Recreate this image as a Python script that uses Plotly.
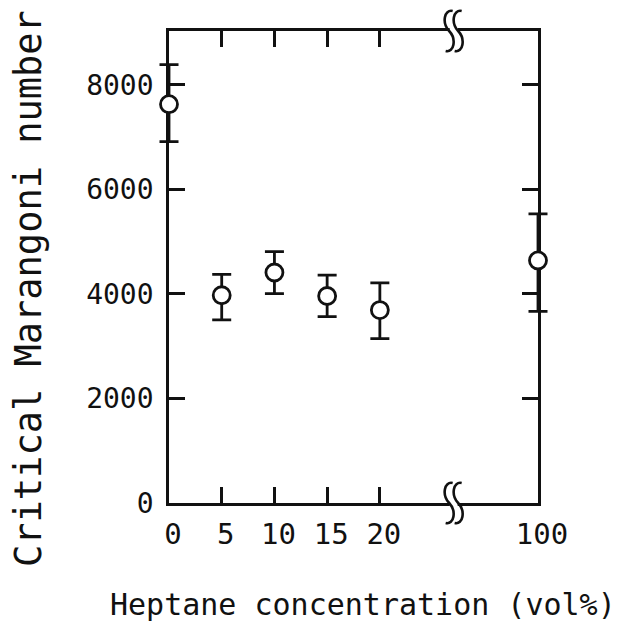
import plotly.graph_objects as go

# ---- data ----
concentration = [0, 5, 10, 15, 20, 100]          # heptane vol%
marangoni = [7630, 3975, 4410, 3960, 3690, 4640]  # critical Marangoni number
err_plus = [755, 400, 400, 400, 520, 890]
err_minus = [715, 470, 405, 395, 545, 975]

x_tick_values = [0, 5, 10, 15, 20, 100]
y_tick_values = [0, 2000, 4000, 6000, 8000]

# broken axis: values above the break are drawn at a compressed position
BREAK_AT = 27
POS_100 = 35
X_MAX = POS_100
Y_MAX = 9030


def axis_pos(c):
    return c if c <= 20 else POS_100


xpos = [axis_pos(c) for c in concentration]
tickpos = [axis_pos(c) for c in x_tick_values]

INK = "#111111"
FONT = "DejaVu Sans Mono"
CLEAR = "rgba(0,0,0,0)"

# ---- layout geometry (figure pixels; page has an 8px body margin) ----
W, H = 611, 613
PLOT_L, PLOT_R, PLOT_T, PLOT_B = 161, 530, 23, 495   # main frame
PAD_L, PAD_R, PAD_T, PAD_B = 26, 26, 22, 26          # unclipped room for data
ML, MR, MT, MB = PLOT_L - PAD_L, W - PLOT_R - PAD_R, PLOT_T - PAD_T, H - PLOT_B - PAD_B
AW, AH = W - ML - MR, H - MT - MB
x_dom = [PAD_L / AW, (PAD_L + PLOT_R - PLOT_L) / AW]
y_dom = [PAD_B / AH, (PAD_B + PLOT_B - PLOT_T) / AH]
ux = X_MAX / (PLOT_R - PLOT_L)   # data units per pixel
uy = Y_MAX / (PLOT_B - PLOT_T)
x2_range = [-PAD_L * ux, X_MAX + PAD_R * ux]
y2_range = [-PAD_B * uy, Y_MAX + PAD_T * uy]


def paper_x(px):
    return (px - ML) / AW


def paper_y(py):
    return 1 - (py - MT) / AH


fig = go.Figure()
# invisible trace to hold the framed axes
fig.add_trace(go.Scatter(x=[None], y=[None], xaxis="x", yaxis="y",
                         showlegend=False, hoverinfo="skip"))
fig.add_trace(go.Scatter(
    x=xpos, y=marangoni, mode="markers", xaxis="x2", yaxis="y2",
    marker=dict(symbol="circle", size=17, color="white",
                line=dict(color=INK, width=2.8)),
    error_y=dict(type="data", symmetric=False, array=err_plus,
                 arrayminus=err_minus, color=INK, thickness=2.8, width=9.5),
    cliponaxis=False, showlegend=False,
))


# axis-break marks (two S curves), coordinates in pixels around the anchor
def s_path(cx):
    pts = [(cx + 3.5, -20), (cx - 5, -22), (cx - 7.5, -8), (cx, 0),
           (cx + 7.5, 8), (cx + 5, 22), (cx - 3.5, 20)]
    p = [(x, -y) for x, y in pts]   # pixel y grows upward
    return ("M {:.1f},{:.1f} C {:.1f},{:.1f} {:.1f},{:.1f} {:.1f},{:.1f} "
            "C {:.1f},{:.1f} {:.1f},{:.1f} {:.1f},{:.1f}").format(
        *[v for pt in p for v in pt])


for ya in (0, Y_MAX):
    fig.add_shape(type="path", xref="x2", yref="y2", xsizemode="pixel",
                  ysizemode="pixel", xanchor=BREAK_AT, yanchor=ya,
                  path="M -4,-3 L 4,-3 L 4,3 L -4,3 Z", fillcolor="white",
                  line=dict(width=0), layer="above")
    for cx in (-4.5, 4.5):
        fig.add_shape(type="path", xref="x2", yref="y2", xsizemode="pixel",
                      ysizemode="pixel", xanchor=BREAK_AT, yanchor=ya,
                      path=s_path(cx),
                      line=dict(color=INK, width=2.6), layer="above")

axis_common = dict(showline=True, linecolor=INK, linewidth=2.6, mirror="ticks",
                   ticks="inside", ticklen=16, tickwidth=2.6, tickcolor=INK,
                   showgrid=False, zeroline=False)

fig.update_layout(
    xaxis=dict(domain=x_dom, anchor="y", range=[0, X_MAX], tickmode="array",
               tickvals=tickpos, ticktext=[str(v) for v in x_tick_values],
               tickfont=dict(family=FONT, size=29, color=INK),
               ticklabelshift=4, ticklabelstandoff=3, **axis_common),
    yaxis=dict(domain=y_dom, anchor="x", range=[0, Y_MAX], tickmode="array",
               tickvals=y_tick_values, ticktext=[str(v) for v in y_tick_values],
               tickfont=dict(family=FONT, size=28, color=INK),
               ticklabelstandoff=7, **axis_common),
    xaxis2=dict(domain=[0, 1], anchor="y2", range=x2_range, visible=False),
    yaxis2=dict(domain=[0, 1], anchor="x2", range=y2_range, visible=False),
)

fig.add_annotation(text="Critical Marangoni number", textangle=-90,
                   xref="paper", yref="paper", x=paper_x(20), y=paper_y(281),
                   xanchor="center", yanchor="middle", showarrow=False,
                   font=dict(family=FONT, size=37, color=INK))
fig.add_annotation(text="Heptane concentration (vol%)",
                   xref="paper", yref="paper", x=paper_x(355), y=paper_y(596),
                   xanchor="center", yanchor="middle", showarrow=False,
                   font=dict(family=FONT, size=30, color=INK))

fig.update_layout(width=W, height=H, plot_bgcolor=CLEAR,
                  paper_bgcolor="white",
                  margin=dict(l=ML, r=MR, t=MT, b=MB, autoexpand=False))

fig.write_html("out.html")
